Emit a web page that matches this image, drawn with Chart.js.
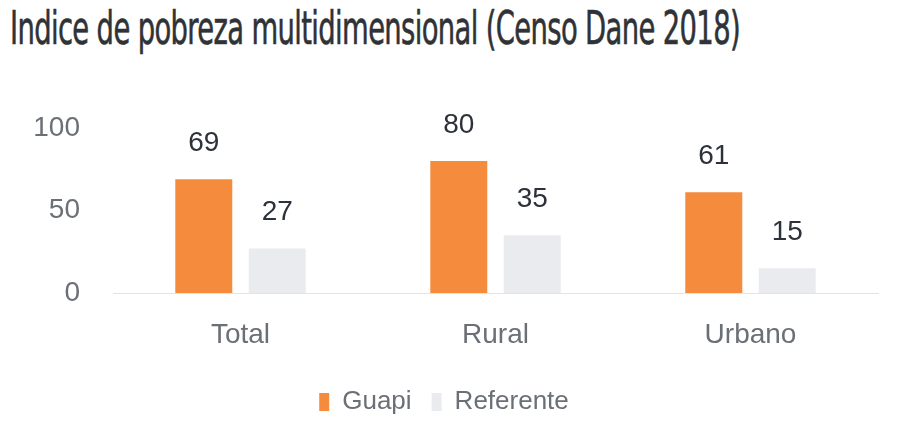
<!DOCTYPE html>
<html lang="es">
<head>
<meta charset="UTF-8">
<title>Indice de pobreza multidimensional</title>
<script src="https://cdn.jsdelivr.net/npm/chart.js"></script>
<style>
    body {
        margin: 0;
        background: #fff;
    }
    .wrap {
        position: relative;
        width: 903px;
        height: 436px;
    }
    h1 {
        position: absolute;
        left: 10px;
        top: 2px;
        margin: 0;
        font-family: 'Liberation Sans Narrow', 'DejaVu Sans Condensed', sans-serif;
        font-weight: normal;
        font-size: 47px;
        line-height: 1.1;
        color: #2f3236;
        white-space: nowrap;
        transform-origin: left top;
        letter-spacing: -1px;
        -webkit-text-stroke: 0.6px #2f3236;
    }
    canvas {
        position: absolute;
        left: 0;
        top: 0;
    }
</style>
</head>
<body>
<div class="wrap">
    <h1 id="title">Indice de pobreza multidimensional (Censo Dane 2018)</h1>
    <canvas id="chart" width="903" height="436"></canvas>
</div>

<script>
    const categories = ['Total', 'Rural', 'Urbano'];
    const guapi = [69, 80, 61];
    const referente = [27, 35, 15];
    const yTicks = [0, 50, 100];

    // ancho del titulo ajustado al original (~730px)
    const title = document.getElementById('title');
    const w = title.getBoundingClientRect().width;
    title.style.transform = 'scaleX(' + (730 / w) + ')';

    const narrow = "'Liberation Sans Narrow', 'Liberation Sans', sans-serif";

    // etiquetas encima de cada barra
    const valueLabels = {
        id: 'valueLabels',
        afterDatasetsDraw(chart) {
            const ctx = chart.ctx;
            ctx.save();
            ctx.font = '28px ' + narrow;
            ctx.fillStyle = '#2c313a';
            ctx.textAlign = 'center';
            ctx.textBaseline = 'middle';
            chart.data.datasets.forEach((ds, i) => {
                chart.getDatasetMeta(i).data.forEach((bar, j) => {
                    ctx.fillText(ds.data[j], bar.x, bar.y - 36);
                });
            });
            ctx.restore();
        }
    };

    new Chart(document.getElementById('chart'), {
        type: 'bar',
        data: {
            labels: categories,
            datasets: [
                {
                    label: 'Guapi',
                    data: guapi,
                    backgroundColor: '#f48b3d'
                },
                {
                    label: 'Referente',
                    data: referente,
                    backgroundColor: '#e9ebef'
                }
            ]
        },
        options: {
            responsive: false,
            animation: false,
            categoryPercentage: 0.576,
            barPercentage: 0.776,
            layout: {
                padding: { top: 128, right: 25, left: 10, bottom: 11 }
            },
            scales: {
                x: {
                    grid: { display: false },
                    border: { color: '#e4e4e4', dash: [8, 6] },
                    ticks: {
                        color: '#6b6f76',
                        padding: 20,
                        font: { family: narrow, size: 28, lineHeight: 1.0 }
                    }
                },
                y: {
                    min: 0,
                    max: 100,
                    afterBuildTicks: s => { s.ticks = yTicks.map(v => ({ value: v })); },
                    afterFit: s => { s.width = 103; },
                    grid: { display: false, drawTicks: false },
                    border: { display: false },
                    ticks: {
                        color: '#6b6f76',
                        padding: 33,
                        font: { family: narrow, size: 28 }
                    }
                }
            },
            plugins: {
                legend: {
                    position: 'bottom',
                    labels: {
                        color: '#6b6f76',
                        boxWidth: 10,
                        boxHeight: 18,
                        padding: 20,
                        font: { family: narrow, size: 26 }
                    }
                },
                tooltip: { enabled: false }
            }
        },
        plugins: [valueLabels]
    });
</script>
</body>
</html>
